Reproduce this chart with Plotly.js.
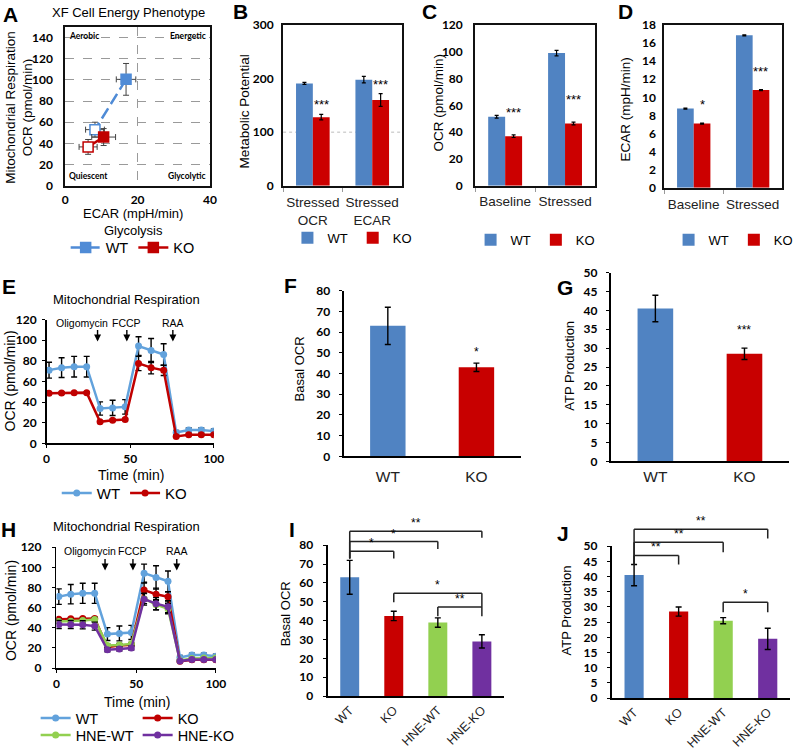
<!DOCTYPE html>
<html><head><meta charset="utf-8">
<script src="https://cdn.plot.ly/plotly-3.0.1.min.js"></script>
<style>html,body{margin:0;padding:0;background:#fff;}#fig{width:799px;height:751px;}</style>
</head><body><div id="fig"></div>
<script>
// ================= DATA =================
// A: XF Cell Energy Phenotype (first point = stressed/filled, second = baseline/open)
const aWT_ecar = [16.8, 8.2];
const aWT_ocr = [100.5, 53];
const aWT_ecarErr = [2.7, 2.6];
const aWT_ocrErr = [15, 7];
const aKO_ecar = [10.6, 6.3];
const aKO_ocr = [46, 36.7];
const aKO_ecarErr = [3.3, 2.5];
const aKO_ocrErr = [8, 7];
const aQuadrants = ['Aerobic', 'Energetic', 'Quiescent', 'Glycolytic'];
// B: Metabolic potential
const bCats = ['Stressed<br>OCR', 'Stressed<br>ECAR'];
const bWT = [191, 198];
const bWTerr = [2, 6];
const bKO = [128, 160];
const bKOerr = [5, 12];
const bSig = ['***', '***'];
// C: OCR
const cCats = ['Baseline', 'Stressed'];
const cWT = [51.5, 99];
const cWTerr = [1, 2];
const cKO = [37, 46.5];
const cKOerr = [1, 1];
const cSig = ['***', '***'];
// D: ECAR
const dCats = ['Baseline', 'Stressed'];
const dWT = [8.75, 16.85];
const dWTerr = [0.06, 0.06];
const dKO = [7.1, 10.8];
const dKOerr = [0.06, 0.06];
const dSig = ['*', '***'];
// E / H: Mitochondrial respiration time course
const timeMin = [1.5, 9, 16.5, 24, 32, 39.5, 47, 55, 62.5, 70, 77.5, 85, 92.5, 100];
const wtOCR = [71, 73.4, 74.3, 74.3, 33.8, 34.4, 35.4, 94.3, 90, 86.2, 10.6, 12.9, 12.9, 11.9];
const wtOCRerr = [7.7, 9.6, 10, 10, 6.4, 7.4, 7, 9, 11.6, 10.3, 2, 2, 2, 2];
const koOCR = [48.6, 48.9, 49.2, 49.2, 20.9, 22.5, 23.2, 77.5, 73.4, 70.8, 6.8, 8.4, 8.4, 8.4];
const koOCRerr = [1, 1, 1, 1, 1, 1, 1, 7, 6, 5, 1, 1, 1, 1];
const hneWtOCR = [46.3, 46.6, 47.3, 48.3, 22.5, 23, 24, 69, 63, 59, 7.6, 9.5, 10, 10];
const hneWtOCRerr = [2, 2, 2, 2, 1.5, 1.5, 1.5, 5, 5, 5, 1, 1, 1, 1];
const hneKoOCR = [43.3, 43.3, 43, 41.7, 18.2, 19, 20, 68.5, 64, 61, 7, 8.5, 8.5, 8.5];
const hneKoOCRerr = [4, 4, 4, 4, 2, 2, 2, 6, 6, 6, 1, 1, 1, 1];
const injections = ['Oligomycin', 'FCCP', 'RAA'];
const injectionTimes = [30.5, 48, 75.5];
// F, G
const fgCats = ['WT', 'KO'];
const fBasal = [63, 43];
const fBasalErr = [9, 2];
const fSig = ['', '*'];
const gATP = [40.5, 28.5];
const gATPerr = [3.5, 1.5];
const gSig = ['', '***'];
// I, J
const ijCats = ['WT', 'KO', 'HNE-WT', 'HNE-KO'];
const iBasal = [63, 42.5, 39, 29];
const iBasalErr = [9, 2.5, 2.5, 3.5];
const jATP = [40.5, 28.5, 25.5, 19.5];
const jATPerr = [3.5, 1.5, 1, 3.5];
const iPairs = [[0, 1, '*'], [0, 2, '*'], [0, 3, '**'], [1, 3, '*'], [2, 3, '**']];
const jPairs = [[0, 1, '**'], [0, 2, '**'], [0, 3, '**'], [2, 3, '*']];

// ================= STYLE / LAYOUT =================
const W = 799, H = 751;
const ARIAL = '"Liberation Sans", Arial, sans-serif';
const BOLD = 'Lato, "Liberation Sans", sans-serif';
const BLUE = '#5083c2', RED1 = '#cc0000', RED2 = '#c80000', GREEN = '#92d050', PURPLE = '#7030a0';
const LBLUE = '#62a2dc', LRED = '#c00000', ABLUE = '#4f8bd6';
const TICK = {family: BOLD, size: 12, color: '#000', weight: 'bold'};
const px = v => v / W, py = v => 1 - v / H;
const BOX = {
  A: {l: 66, r: 212, t: 27, b: 186}, B: {l: 286, r: 406, t: 25, b: 186},
  C: {l: 480, r: 601, t: 25, b: 186}, D: {l: 671, r: 790, t: 25, b: 188},
  E: {l: 47, r: 216, t: 320, b: 444}, F: {l: 347, r: 526, t: 291, b: 457},
  G: {l: 617, r: 797, t: 273, b: 462}, H: {l: 57, r: 218, t: 548, b: 669},
  I: {l: 331, r: 509, t: 546, b: 697}, J: {l: 618, r: 798, t: 547, b: 699}
};
const layout = {
  width: W, height: H, margin: {l: 0, r: 0, t: 0, b: 0}, autosize: false,
  paper_bgcolor: '#fff', plot_bgcolor: 'rgba(0,0,0,0)', barmode: 'overlay',
  font: {family: ARIAL, size: 12, color: '#000'}, annotations: [], shapes: [], showlegend: true
};
function sfx(k) { return k === 1 ? '' : String(k); }
function setAxes(k, b, xo, yo) {
  const s = sfx(k);
  const base = {showgrid: false, zeroline: false, showline: true, linecolor: '#000', linewidth: 1.5, fixedrange: true, automargin: false};
  layout['xaxis' + s] = Object.assign({}, base, {domain: [b.l / W, b.r / W], anchor: 'y' + s}, xo);
  layout['yaxis' + s] = Object.assign({}, base, {domain: [1 - b.b / H, 1 - b.t / H], anchor: 'x' + s}, yo);
}
function ypaper(k, v) {
  const ya = layout['yaxis' + sfx(k)];
  return ya.domain[0] + (v - ya.range[0]) / (ya.range[1] - ya.range[0]) * (ya.domain[1] - ya.domain[0]);
}
const ann = layout.annotations, shp = layout.shapes;
function text(x, y, t, size, extra) {
  ann.push(Object.assign({xref: 'paper', yref: 'paper', x: px(x), y: py(y), text: t, showarrow: false,
    xanchor: 'center', yanchor: 'middle', font: {family: ARIAL, size: size, color: '#000'}}, extra || {}));
}
const CAT = {family: ARIAL, size: 13.5, color: '#222'};
const boxAxis = {mirror: true, linewidth: 2, linecolor: '#111'};
const catX = {type: 'category', range: [-0.5, 1.5], tickangle: 0, tickfont: CAT, ticks: 'outside', tickson: 'boundaries', ticklen: 4, tickcolor: '#999'};

// A
setAxes(1, BOX.A,
  Object.assign({}, boxAxis, {range: [0, 40], dtick: 20, tick0: 0, showgrid: true, griddash: 'dash', gridcolor: '#9a9a9a', gridwidth: 1, ticks: '', tickfont: TICK, ticklabelstandoff: 2}),
  Object.assign({}, boxAxis, {range: [0, 150], dtick: 20, tick0: 0, showgrid: true, griddash: 'dash', gridcolor: '#9a9a9a', gridwidth: 1, ticks: '', tickfont: TICK, ticklabelstandoff: 8}));
// B C D
setAxes(2, BOX.B, Object.assign({}, boxAxis, catX, {ticklabelstandoff: 3}), Object.assign({}, boxAxis, {range: [0, 300], dtick: 100, tick0: 0, ticks: '', tickfont: TICK, ticklabelstandoff: 5}));
setAxes(3, BOX.C, Object.assign({}, boxAxis, catX, {ticklabelstandoff: 2}), Object.assign({}, boxAxis, {range: [0, 120], dtick: 20, tick0: 0, ticks: '', tickfont: TICK, ticklabelstandoff: 8}));
setAxes(4, BOX.D, Object.assign({}, boxAxis, catX, {ticklabelstandoff: 3}), Object.assign({}, boxAxis, {range: [0, 18], dtick: 2, tick0: 0, ticks: '', tickfont: TICK, ticklabelstandoff: 4}));
// E H
const tcX = {range: [0, 100], dtick: 50, tick0: 0, ticks: 'outside', ticklen: 3, tickcolor: '#000', tickfont: TICK, ticklabelstandoff: 1};
const tcY = {range: [0, 120], dtick: 20, tick0: 0, ticks: 'outside', ticklen: 3, tickcolor: '#000', tickfont: TICK};
setAxes(5, BOX.E, tcX, Object.assign({}, tcY, {ticklabelstandoff: 3}));
setAxes(8, BOX.H, tcX, Object.assign({}, tcY, {ticklabelstandoff: 8}));
// F G
const barY = {tick0: 0, ticks: 'outside', ticklen: 3, tickcolor: '#000', tickfont: TICK, linewidth: 2};
setAxes(6, BOX.F, {type: 'category', range: [-0.5, 1.5], ticks: '', tickangle: 0, tickfont: {family: ARIAL, size: 15.5, color: '#222'}, ticklabelstandoff: 5, linewidth: 2},
  Object.assign({}, barY, {range: [0, 80], dtick: 10, ticklabelstandoff: 6}));
setAxes(7, BOX.G, {type: 'category', range: [-0.5, 1.5], ticks: '', tickangle: 0, tickfont: {family: ARIAL, size: 15.5, color: '#222'}, ticklabelstandoff: 0, linewidth: 2},
  Object.assign({}, barY, {range: [0, 50], dtick: 5, ticklabelstandoff: 6}));
// I J
const rotX = {type: 'category', range: [-0.5, 3.5], ticks: '', tickangle: -45, tickfont: {family: ARIAL, size: 12.5, color: '#222'}, ticklabelstandoff: 0, linewidth: 2};
setAxes(9, BOX.I, rotX, Object.assign({}, barY, {range: [0, 80], dtick: 10, ticklabelstandoff: 7}));
setAxes(10, BOX.J, rotX, Object.assign({}, barY, {range: [0, 50], dtick: 5, ticklabelstandoff: 7}));

// ================= TRACES =================
const traces = [];
const errA = arr => ({type: 'data', array: arr, color: '#444', thickness: 1, width: 3});
traces.push({type: 'scatter', mode: 'lines+markers', x: aWT_ecar, y: aWT_ocr, xaxis: 'x', yaxis: 'y', name: 'WT', legend: 'legend',
  line: {color: ABLUE, width: 2.5, dash: '12px,5px'},
  marker: {symbol: 'square', size: 10, color: [ABLUE, '#fff'], line: {color: ABLUE, width: 1.5}},
  error_x: errA(aWT_ecarErr), error_y: errA(aWT_ocrErr)});
traces.push({type: 'scatter', mode: 'lines+markers', x: aKO_ecar, y: aKO_ocr, xaxis: 'x', yaxis: 'y', name: 'KO', legend: 'legend',
  line: {color: LRED, width: 2.5},
  marker: {symbol: 'square', size: 10, color: [LRED, '#fff'], line: {color: LRED, width: 1.5}},
  error_x: errA(aKO_ecarErr), error_y: errA(aKO_ocrErr)});

const wG = 0.283;
const errB = arr => ({type: 'data', array: arr, color: '#000', thickness: 1.2, width: 2});
function groupBars(k, cats, wt, wtE, ko, koE, leg) {
  const s = sfx(k);
  traces.push({type: 'bar', x: cats, y: wt, xaxis: 'x' + s, yaxis: 'y' + s, name: 'WT', legend: leg,
    width: wG, offset: -wG, marker: {color: BLUE, line: {width: 0}}, error_y: errB(wtE)});
  traces.push({type: 'bar', x: cats, y: ko, xaxis: 'x' + s, yaxis: 'y' + s, name: 'KO', legend: leg,
    width: wG, offset: 0, marker: {color: RED1, line: {width: 0}}, error_y: errB(koE)});
}
groupBars(2, bCats, bWT, bWTerr, bKO, bKOerr, 'legend2');
groupBars(3, cCats, cWT, cWTerr, cKO, cKOerr, 'legend3');
groupBars(4, dCats, dWT, dWTerr, dKO, dKOerr, 'legend4');

const errL = arr => ({type: 'data', array: arr, color: '#000', thickness: 1.4, width: 3});
function tc(k, y, e, name, color, leg) {
  const s = sfx(k);
  traces.push({type: 'scatter', mode: 'lines+markers', x: timeMin, y: y, xaxis: 'x' + s, yaxis: 'y' + s, name: name, legend: leg,
    line: {color: color, width: 2.5}, marker: {symbol: 'circle', size: 7, color: color}, error_y: errL(e)});
}
tc(5, wtOCR, wtOCRerr, 'WT', LBLUE, 'legend5');
tc(5, koOCR, koOCRerr, 'KO', LRED, 'legend5');
tc(8, wtOCR, wtOCRerr, 'WT', LBLUE, 'legend6');
tc(8, koOCR, koOCRerr, 'KO', LRED, 'legend6');
tc(8, hneWtOCR, hneWtOCRerr, 'HNE-WT', GREEN, 'legend7');
tc(8, hneKoOCR, hneKoOCRerr, 'HNE-KO', PURPLE, 'legend7');

const errS = arr => ({type: 'data', array: arr, color: '#000', thickness: 1.4, width: 3});
function simpleBars(k, cats, v, e, colors, w) {
  const s = sfx(k);
  traces.push({type: 'bar', x: cats, y: v, xaxis: 'x' + s, yaxis: 'y' + s, showlegend: false, width: w,
    marker: {color: colors, line: {width: 0}}, error_y: errS(e)});
}
simpleBars(6, fgCats, fBasal, fBasalErr, [BLUE, RED2], 0.4);
simpleBars(7, fgCats, gATP, gATPerr, [BLUE, RED2], 0.4);
simpleBars(9, ijCats, iBasal, iBasalErr, [BLUE, RED2, GREEN, PURPLE], 0.43);
simpleBars(10, ijCats, jATP, jATPerr, [BLUE, RED2, GREEN, PURPLE], 0.43);

// ================= LEGENDS =================
function lg(x, y, size, extra) {
  return Object.assign({x: px(x), y: py(y), xanchor: 'center', yanchor: 'middle', orientation: 'h',
    font: {family: ARIAL, size: size, color: '#000'}, bgcolor: 'rgba(0,0,0,0)', borderwidth: 0,
    itemclick: false, itemdoubleclick: false, tracegroupgap: 0}, extra || {});
}
layout.legend = lg(134, 248, 14.5);
layout.legend2 = lg(356, 238, 13);
layout.legend3 = lg(541, 240, 13);
layout.legend4 = lg(741, 240, 13);
layout.legend5 = lg(126, 494, 15);
layout.legend6 = lg(36, 719, 14.5, {xanchor: 'left', entrywidth: 57, entrywidthmode: 'pixels'});
layout.legend7 = lg(36, 736, 14.5, {xanchor: 'left', entrywidth: 57, entrywidthmode: 'pixels'});

// ================= ANNOTATIONS =================
// panel letters
const letters = [['A', 11, 15], ['B', 243, 12], ['C', 434, 12], ['D', 632, 12], ['E', 9, 287], ['F', 293, 286],
  ['G', 571, 288], ['H', 9, 530], ['I', 295, 530], ['J', 569, 534]];
letters.forEach(l => text(l[1], l[2], '<b>' + l[0] + '</b>', 21));
// titles
text(130, 13, 'XF Cell Energy Phenotype', 13);
text(128, 300, 'Mitochondrial Respiration', 13);
text(128, 527, 'Mitochondrial Respiration', 13);
// axis titles
text(20, 108, 'Mitochondrial Respiration<br>OCR (pmol/min)', 13.5, {textangle: -90});
text(134, 222, 'ECAR (mpH/min)<br>Glycolysis', 13);
text(247, 112, 'Metabolic Potential', 13.5, {textangle: -90});
text(443, 103, 'OCR (pmol/min)', 13.5, {textangle: -90});
text(632, 110, 'ECAR (mpH/min)', 13.5, {textangle: -90});
text(11, 381, 'OCR (pmol/min)', 14, {textangle: -90});
text(132, 476, 'Time (min)', 14);
text(303, 369, 'Basal OCR', 13, {textangle: -90});
text(575, 366, 'ATP Production', 13, {textangle: -90});
text(11, 611, 'OCR (pmol/min)', 14, {textangle: -90});
text(138, 703, 'Time (min)', 14);
text(288, 615, 'Basal OCR', 13, {textangle: -90});
text(572, 611, 'ATP Production', 13, {textangle: -90});
// A quadrant labels
const qpos = [[0.01, 0.985, 'left', 'top'], [0.985, 0.985, 'right', 'top'], [0.01, 0.015, 'left', 'bottom'], [0.985, 0.015, 'right', 'bottom']];
aQuadrants.forEach((q, i) => ann.push({xref: 'x domain', yref: 'y domain', x: qpos[i][0], y: qpos[i][1], xanchor: qpos[i][2], yanchor: qpos[i][3],
  text: '<b>' + q + '</b>', showarrow: false, font: {family: BOLD, size: 8.5, color: '#000'}}));
// B dotted reference line
shp.push({type: 'line', xref: 'x2 domain', yref: 'y2', x0: 0, x1: 1, y0: 100, y1: 100, layer: 'below', line: {color: '#bbb', width: 1, dash: 'dot'}});
// significance stars for grouped bars
function sigGroup(k, sig, ko, koE, yshift) {
  const s = sfx(k);
  sig.forEach((t, i) => ann.push({xref: 'x' + s, yref: 'y' + s, x: i + wG / 2, y: ko[i] + koE[i], text: t, showarrow: false,
    yanchor: 'bottom', yshift: yshift, font: {family: ARIAL, size: 13, color: '#000'}}));
}
sigGroup(2, bSig, bKO, bKOerr, 0);
sigGroup(3, cSig, cKO, cKOerr, 13);
sigGroup(4, dSig, dKO, dKOerr, 9);
function sigSimple(k, sig, v, e, yshift) {
  const s = sfx(k);
  sig.forEach((t, i) => { if (t) ann.push({xref: 'x' + s, yref: 'y' + s, x: i, y: v[i] + e[i], text: t, showarrow: false,
    yanchor: 'bottom', yshift: yshift, font: {family: ARIAL, size: 12, color: '#000'}}); });
}
sigSimple(6, fSig, fBasal, fBasalErr, 2);
sigSimple(7, gSig, gATP, gATPerr, 9);
// injection arrows
function inject(k, tipY, labelY, shifts) {
  const s = sfx(k);
  injections.forEach((name, i) => {
    ann.push({xref: 'x' + s, yref: 'y' + s, x: injectionTimes[i], y: tipY, ax: 0, ay: -13, text: '', showarrow: true,
      arrowhead: 2, arrowsize: 1, arrowwidth: 1.4, arrowcolor: '#000'});
    ann.push({xref: 'x' + s, yref: 'y' + s, x: injectionTimes[i], y: labelY, xshift: shifts[i], text: name, showarrow: false,
      font: {family: ARIAL, size: 10.5, color: '#000'}});
  });
}
inject(5, 98.7, 117, [-16, 0, 0]);
inject(8, 97, 116, [-15, 0, 0]);
// brackets (level, left-leg bottom, right-leg bottom in data units)
const iLevels = [[76.8, 73, 73], [82, 73, 78], [87.4, 73, 84], [54.6, 49.8, 47.2], [47.2, 42.4, 42.4]];
const jLevels = [[47, 44, 44], [51.3, 44, 48], [55.6, 44, 52.6], [31.6, 28.3, 28.3]];
function brackets(k, pairs, levels) {
  const s = sfx(k);
  const ln = {color: '#222', width: 1.5};
  pairs.forEach((p, n) => {
    const [top, lb, rb] = levels[n];
    const yt = ypaper(k, top);
    shp.push({type: 'line', xref: 'x' + s, yref: 'paper', x0: p[0], x1: p[1], y0: yt, y1: yt, line: ln});
    shp.push({type: 'line', xref: 'x' + s, yref: 'paper', x0: p[0], x1: p[0], y0: yt, y1: ypaper(k, lb), line: ln});
    shp.push({type: 'line', xref: 'x' + s, yref: 'paper', x0: p[1], x1: p[1], y0: yt, y1: ypaper(k, rb), line: ln});
    ann.push({xref: 'x' + s, yref: 'paper', x: (p[0] + p[1]) / 2, y: yt, yanchor: 'bottom', yshift: -1, text: p[2], showarrow: false,
      font: {family: ARIAL, size: 12, color: '#000'}});
  });
}
brackets(9, iPairs, iLevels);
brackets(10, jPairs, jLevels);

Plotly.newPlot('fig', traces, layout, {staticPlot: true, displayModeBar: false});
</script></body></html>
